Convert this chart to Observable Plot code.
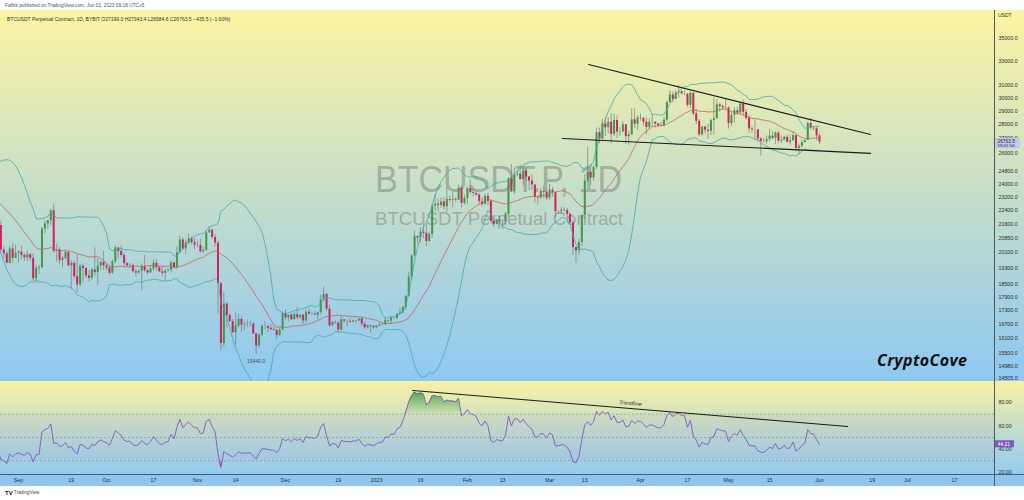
<!DOCTYPE html>
<html><head><meta charset="utf-8">
<script src="https://cdn.jsdelivr.net/npm/d3@7"></script>
<script src="https://cdn.jsdelivr.net/npm/@observablehq/plot@0.6"></script>
<style>
html,body{margin:0;padding:0;background:#fff;width:1024px;height:500px;overflow:hidden;font-family:"Liberation Sans",Arial,sans-serif;}
#root{position:relative;width:1024px;height:500px;}
.abs{position:absolute;}
</style></head><body><div id="root"></div>
<script>
// ---------------- DATA (daily BTCUSDT perpetual, from 2022-08-01) ----------------
const startDate = "2022-08-01T00:00:00Z";
const firstOpen = 23290;
const close = [
 // Aug 2022
 23300,22980,22820,22620,23310,23160,23180,23810,23160,23950,23930,24400,24440,24300,24100,23850,23340,23200,20830,21140,21520,21400,21530,21370,21560,20240,20040,19550,20290,19800,20050,
 // Sep
 20130,19950,19830,19990,19800,18790,19290,19320,21360,21650,21830,22400,20170,20230,19700,19800,20110,19420,19540,18880,18480,19400,19290,18920,18800,19220,19080,19410,19590,19420,
 // Oct
 19310,19050,19620,20340,20160,19950,19530,19420,19440,19130,19060,19150,19380,19180,19070,19260,19550,19330,19120,19040,19160,19200,19570,19330,20080,20770,20290,20590,20820,20620,20490,
 // Nov
 20480,20150,20210,21150,21300,20900,20600,18540,15880,17590,17070,16810,16330,16620,16900,16660,16690,16700,16700,16280,15780,16230,16600,16600,16520,16460,16430,16210,16440,17160,
 // Dec
 16970,17090,16890,17110,16970,17090,16840,17220,17130,17130,17090,17210,17780,18040,17360,16630,16770,16740,16440,16890,16820,16820,16780,16840,16830,16920,16700,16540,16630,16600,16540,
 // Jan 2023
 16620,16670,16670,16850,16830,16950,16940,17120,17180,17440,17940,18850,19930,20950,20870,21180,21130,20680,21070,22670,22780,22710,22920,22630,23060,23010,23080,23030,23740,22830,23120,
 // Feb
 23720,23490,23430,23330,22930,22760,23250,22960,21800,21630,21860,21780,21770,22200,24330,23520,24570,24630,24280,24830,24440,24190,23950,23190,23160,23550,23490,23140,
 // Mar
 23630,23470,22350,22350,22430,22410,22200,21700,20360,20190,20630,22130,24200,24750,24380,25050,27420,26970,28040,27770,28170,27300,28300,27470,27490,27990,27140,27270,28350,28030,28480,
 // Apr
 28450,28170,27800,28170,28180,28040,27920,27950,28330,29650,30230,29890,30390,30480,30310,30310,29430,30380,28800,28240,27260,27820,27590,27510,28300,28420,29470,29340,29250,29230,
 // May
 28070,28680,29030,28850,29530,28900,28450,27690,27630,27620,26990,26800,26780,26930,27170,27030,27400,26830,26890,27100,26750,26850,27220,26330,26470,26720,26870,28080,27740,27700,27199,
 // Jun 1
 26763.5
];
const high = [
 23500,23450,23650,23200,23460,23360,23400,24240,23900,24200,24920,24450,24890,25050,25200,24250,24450,23590,23230,21380,21800,21700,21680,21900,21820,21800,20400,20150,20420,20580,20480,
 20200,20450,20050,20180,20050,20030,19460,19450,21450,21800,21850,22480,22800,20540,20350,19900,20180,20120,19680,19650,19950,19500,19500,19320,19180,19300,20350,19770,19640,20180,
 19480,19390,19720,20470,20370,20450,20050,19600,19530,19520,19270,19230,19520,19950,19230,19420,19690,19700,19360,19350,19250,19260,19700,19600,20410,21000,20870,20740,21080,20930,20840,
 20700,20800,20390,21300,21480,21370,21050,20700,18600,18150,17660,17150,16900,17200,17130,17000,16750,16880,16820,16750,16300,16300,16680,16800,16620,16690,16600,16490,16530,17230,
 17320,17100,17160,17200,17430,17110,17140,17300,17350,17230,17270,17240,18000,18390,18050,17530,16800,16850,16820,17050,16900,16870,16950,16870,16860,16940,16960,16790,16660,16650,16640,
 16630,16780,16760,16990,16880,17040,16960,17180,17390,17490,17990,19100,19970,21260,20990,21440,21640,21650,21180,22750,23360,23080,23160,23150,23800,23240,23500,23150,23950,23820,23320,
 23800,24250,23700,23590,23430,23150,23350,23450,22980,21960,21900,22090,21900,22300,24380,25250,25020,24880,25190,25120,25000,24480,24600,23880,23220,23700,23880,23600,
 23990,23780,23480,22420,22610,22600,22530,22270,21800,20370,20800,22170,24600,26400,25250,25200,27750,27750,28400,28500,28500,28800,28750,28650,27800,28200,28000,27500,29180,29170,28640,
 28800,28530,28480,28440,28740,28200,28100,28170,28520,29770,30550,30480,30620,31000,30600,30550,30320,30480,30420,29120,28370,27870,27880,28000,28400,30020,29880,29590,29460,29960,
 29330,28880,29260,29290,29680,29850,29120,28650,27820,28330,27650,27080,27030,27190,27650,27490,27480,27480,27190,27150,27250,27260,27500,27230,26620,26920,26900,28200,28450,27830,27820,
 27343.4
];
const low = [
 22860,22660,22700,22450,22500,22930,22850,23000,22890,22700,23830,23600,24280,24150,23800,23700,23190,23140,20780,20770,21090,20880,21350,21150,21340,20120,19790,19520,19530,19550,19780,
 19560,19750,19650,19650,19650,18670,18540,19000,19290,21110,21360,21550,20050,19620,19500,19320,19710,19380,18250,18780,18120,18370,18600,18800,18650,18700,18900,18470,19200,19180,
 19160,18950,19000,19520,19750,19860,19320,19330,19320,19050,18860,18990,18190,19080,18970,19060,19160,19170,19080,18900,18650,19110,19080,19250,19250,20070,20200,20010,20540,20500,20240,
 20350,20050,20050,20170,21140,20800,20380,17150,15580,15740,16530,16760,16300,15820,16540,16350,16420,16560,16580,16250,15440,15690,16170,16450,16340,16430,16400,16040,16180,16420,
 16850,16790,16860,16880,16880,16910,16680,16740,17100,17090,17080,16880,17100,17670,17250,16550,16580,16710,16290,16400,16740,16560,16750,16780,16740,16800,16600,16460,16500,16320,16480,
 16500,16550,16600,16650,16750,16680,16910,16910,17100,17150,17310,17900,18700,19890,20550,20600,20840,20400,20650,20870,22380,22300,22540,22450,22300,22880,22560,22870,23020,22550,22730,
 22750,23370,23220,23250,22750,22640,22760,22690,21700,21450,21600,21630,21350,21560,22050,23510,23350,24460,24230,23890,24140,23600,23600,22850,22730,23070,23100,23000,
 23030,23200,22000,22200,22200,22320,21950,21600,19950,19550,19950,20420,21900,24080,23910,24190,24900,26650,26900,27150,27350,26650,27150,27000,27160,27400,26600,26550,27230,27700,27580,
 28270,27880,27270,27670,27830,27740,27790,27880,27800,28180,29600,29640,29860,30000,30240,30170,29280,29180,28620,28000,27140,27180,27350,26950,27220,27250,28400,28920,29080,29100,
 27680,27880,28130,28690,28780,28650,28340,27360,27380,26850,26750,25810,26710,26610,26760,26900,26580,26650,26670,26840,26660,26530,26830,26100,25870,26350,26690,26850,27600,27540,26850,
 26584.6
];
const lastOpen = 27199.0;
const lastClose = 26763.5;
const lastRsi = 44.21;
const lowLabel = [{date: "2022-11-21T00:00:00Z", price: 15440, text: "15440.0"}];
const priceTicks = [35000,33000,31000,30000,29000,28000,27000,26000,24800,24000,23200,22400,21600,20850,20100,19300,18500,17900,17300,16700,16100,15500,14980,14505];
const rsiTicks = [80,60,40,20];
const rsiLevels = [70,50,30];
const timeTickDates = ["2022-09-01","2022-09-19","2022-10-01","2022-10-17","2022-11-01","2022-11-14","2022-12-01","2022-12-19","2023-01-01","2023-01-16","2023-02-01","2023-02-13","2023-03-01","2023-03-13","2023-04-01","2023-04-17","2023-05-01","2023-05-15","2023-06-01","2023-06-19","2023-07-01","2023-07-17"];
const timeTickLabels = ["Sep","19","Oct","17","Nov","14","Dec","19","2023","16","Feb","13","Mar","13","Apr","17","May","15","Jun","19","Jul","17"];
const trendUpper = [{date:"2023-03-14T07:00:00Z", price:32720},{date:"2023-06-18T10:00:00Z", price:27290}];
const trendLower = [{date:"2023-03-05T10:00:00Z", price:27010},{date:"2023-06-18T10:00:00Z", price:25990}];
const trendRsi = [{date:"2023-01-13T07:00:00Z", rsi:90.2},{date:"2023-06-10T14:00:00Z", rsi:59.4}];
const trendRsiLabel = [{date:"2023-03-28T14:00:00Z", rsi:79.2, text:"Trendline"}];

// ---------------- BUILD ----------------
const DAY = 86400000;
const t0 = +new Date(startDate);
const candles = close.map((c, i) => ({
  date: new Date(t0 + i * DAY),
  open: i === close.length - 1 ? lastOpen : (i ? close[i - 1] : firstOpen),
  high: high[i], low: low[i], close: c
}));
// Bollinger Bands (20, 2)
const N = 20;
candles.forEach((d, i) => {
  if (i >= N - 1) {
    const w = close.slice(i - N + 1, i + 1);
    const m = d3.mean(w);
    const sd = Math.sqrt(d3.mean(w, v => (v - m) ** 2));
    d.basis = m; d.upper = m + 2 * sd; d.lower = m - 2 * sd;
  }
});
const bb = candles.filter(d => d.basis !== undefined);
// RSI 14 (Wilder)
const rsiData = [];
{
  let ag = 0, al = 0;
  for (let i = 1; i < close.length; i++) {
    const ch = close[i] - close[i - 1];
    const g = Math.max(ch, 0), l = Math.max(-ch, 0);
    if (i <= 14) { ag += g; al += l; if (i === 14) { ag /= 14; al /= 14; } else continue; }
    else { ag = (ag * 13 + g) / 14; al = (al * 13 + l) / 14; }
    rsiData.push({date: candles[i].date, rsi: al === 0 ? 100 : 100 - 100 / (1 + ag / al)});
  }
}
const parse = s => new Date(s);
const xDomain = [new Date("2022-08-25T20:46:00Z"), new Date("2023-07-30T15:36:00Z")];
const UP = "#3f9a45", DOWN = "#cf2360", WICK = "#7b7b7b";
const FONT = "Liberation Sans, Arial, sans-serif";

const root = document.getElementById("root");
function addDiv(css) { const d = document.createElement("div"); d.className = "abs"; d.style.cssText = css; root.appendChild(d); return d; }
addDiv("left:0;top:10px;width:1024px;height:371px;background:linear-gradient(#fcf4a2,#8ec8f2);");
addDiv("left:0;top:381px;width:1024px;height:93px;background:linear-gradient(#f9f1a3,#94cbf2);");
addDiv("left:0;top:474px;width:1024px;height:12px;background:#8fc6ef;");

// ---------------- MAIN PANE ----------------
const main = Plot.plot({
  width: 1024, height: 371, marginLeft: 0, marginRight: 30, marginTop: 0, marginBottom: 0,
  style: {background: "transparent", fontFamily: FONT, fontSize: "5.3px", color: "#2b2b2b", overflow: "visible"},
  x: {type: "utc", domain: xDomain, axis: null},
  y: {type: "log", domain: [14392, 37633], axis: "right", ticks: priceTicks, tickFormat: d => d.toFixed(1), tickSize: 0, tickPadding: 4, label: null},
  marks: [
    Plot.ruleX(candles, {x: "date", y1: "low", y2: "high", stroke: WICK, strokeWidth: 0.7, clip: true}),
    Plot.ruleX(candles.filter(d => d.close >= d.open), {x: "date", y1: "open", y2: "close", stroke: UP, strokeWidth: 2, clip: true}),
    Plot.ruleX(candles.filter(d => d.close < d.open), {x: "date", y1: "open", y2: "close", stroke: DOWN, strokeWidth: 2, clip: true}),
    Plot.line(bb, {x: "date", y: "upper", stroke: "#48a6b0", strokeWidth: 0.8, clip: true}),
    Plot.line(bb, {x: "date", y: "lower", stroke: "#48a6b0", strokeWidth: 0.8, clip: true}),
    Plot.line(bb, {x: "date", y: "basis", stroke: "#b9675f", strokeWidth: 0.8, clip: true}),
    Plot.line(trendUpper, {x: d => parse(d.date), y: "price", stroke: "#1a1a1a", strokeWidth: 1.1}),
    Plot.line(trendLower, {x: d => parse(d.date), y: "price", stroke: "#1a1a1a", strokeWidth: 1.1}),
    Plot.text(lowLabel, {x: d => parse(d.date), y: "price", text: "text", dy: 7, fontSize: 5, fill: "#4a4a4a"})
  ]
});
main.style.position = "absolute"; main.style.left = "0px"; main.style.top = "10px";
root.appendChild(main);
// watermark behind marks
{
  const g = d3.select(main).insert("g", ":first-child").attr("fill", "rgba(95,95,95,0.40)")
    .attr("font-family", FONT).attr("text-anchor", "start");
  g.append("text").attr("x", 375).attr("y", 182).attr("font-size", 36).attr("textLength", 247).attr("lengthAdjust", "spacingAndGlyphs").attr("text-anchor", "start").text("BTCUSDT.P, 1D");
  g.append("text").attr("x", 375).attr("y", 215).attr("font-size", 19).attr("textLength", 248).attr("lengthAdjust", "spacingAndGlyphs").attr("text-anchor", "start").text("BTCUSDT Perpetual Contract");
}

// ---------------- RSI PANE + TIME AXIS ----------------
const tickDates = timeTickDates.map(s => new Date(s + "T00:00:00Z"));
const tickLab = new Map(tickDates.map((d, i) => [+d, timeTickLabels[i]]));
const rsiPlot = Plot.plot({
  width: 1024, height: 105, marginLeft: 0, marginRight: 30, marginTop: 0, marginBottom: 12,
  style: {background: "transparent", fontFamily: FONT, fontSize: "5.3px", color: "#2b2b2b", overflow: "visible"},
  x: {type: "utc", domain: xDomain, ticks: tickDates, tickFormat: d => tickLab.get(+d), tickSize: 0, tickPadding: 3.5, label: null},
  y: {domain: [18.38, 97.86], axis: "right", ticks: rsiTicks, tickFormat: d => d.toFixed(2), tickSize: 0, tickPadding: 4, label: null},
  marks: [
    Plot.rect([{a: 30, b: 70}], {y1: "a", y2: "b", fill: "#7e57c2", fillOpacity: 0.06}),
    Plot.ruleY(rsiLevels, {stroke: "#8c8c8c", strokeWidth: 0.6, strokeDasharray: "2,2"}),
    Plot.areaY(rsiData, {x: "date", y1: 70, y2: d => Math.max(d.rsi, 70), fill: "url(#rsiGreen)", clip: true}),
    Plot.areaY(rsiData, {x: "date", y1: 30, y2: d => Math.min(d.rsi, 30), fill: "url(#rsiRed)", clip: true}),
    Plot.line(rsiData, {x: "date", y: "rsi", stroke: "#7e57c2", strokeWidth: 0.9, clip: true}),
    Plot.line(trendRsi, {x: d => parse(d.date), y: "rsi", stroke: "#1a1a1a", strokeWidth: 1}),
    Plot.text(trendRsiLabel, {x: d => parse(d.date), y: "rsi", text: "text", rotate: 4.7, fontSize: 5.5, fontStyle: "italic", fill: "#333"})
  ]
});
rsiPlot.style.position = "absolute"; rsiPlot.style.left = "0px"; rsiPlot.style.top = "381px";
root.appendChild(rsiPlot);
d3.select(rsiPlot).append("defs").html(
  '<linearGradient id="rsiGreen" x1="0" y1="0" x2="0" y2="1"><stop offset="0" stop-color="#3fa046" stop-opacity="0.9"/><stop offset="1" stop-color="#3fa046" stop-opacity="0.05"/></linearGradient>' +
  '<linearGradient id="rsiRed" x1="0" y1="0" x2="0" y2="1"><stop offset="0" stop-color="#d32f2f" stop-opacity="0.05"/><stop offset="1" stop-color="#d32f2f" stop-opacity="0.8"/></linearGradient>');

// separators
addDiv("left:994px;top:10px;width:1px;height:476px;background:#4f5862;");
addDiv("left:0;top:474px;width:1024px;height:1px;background:#4f5a66;");

// ---------------- OVERLAY TEXT ----------------
const ov = d3.select(root).append("svg").attr("width", 1024).attr("height", 500)
  .style("position", "absolute").style("left", 0).style("top", 0).attr("font-family", FONT);
ov.append("text").attr("x", 5).attr("y", 6.8).attr("font-size", 4.8).attr("fill", "#555").text("Falbik published on TradingView.com, Jun 01, 2023 09:18 UTC+5");
ov.append("text").attr("x", 7).attr("y", 20.8).attr("font-size", 5).attr("fill", "#333")
  .text("BTCUSDT Perpetual Contract, 1D, BYBIT  O27199.0  H27343.4  L26584.6  C26763.5  \u2212435.5 (\u22121.60%)");
ov.append("text").attr("x", 998).attr("y", 17).attr("font-size", 5).attr("fill", "#333").text("USDT");
ov.append("text").attr("x", 877).attr("y", 366).attr("font-family", "Open Sans, DejaVu Sans, sans-serif")
  .attr("font-size", 16).attr("font-weight", 700).attr("font-style", "italic").attr("fill", "#111").attr("textLength", 90).text("CryptoCove");
// last price label (covers the lower half of the 27000.0 tick, as in the reference)
{
  const yp = 10 + main.scale("y").apply(lastClose);
  ov.append("rect").attr("x", 995).attr("y", yp - 3.6).attr("width", 25).attr("height", 10.2).attr("fill", "#c3c7ec");
  ov.append("text").attr("x", 997.5).attr("y", yp + 1.4).attr("font-size", 4.8).attr("fill", "#1d2550").text(lastClose.toFixed(1));
  ov.append("text").attr("x", 997.5).attr("y", yp + 5.8).attr("font-size", 4.4).attr("fill", "#1d2550").text("19:41:56");
  const yr = 381 + rsiPlot.scale("y").apply(lastRsi);
  ov.append("rect").attr("x", 995).attr("y", yr - 3.5).attr("width", 19).attr("height", 7).attr("fill", "#7e57c2");
  ov.append("text").attr("x", 997.5).attr("y", yr + 1.8).attr("font-size", 5).attr("fill", "#fff").text(lastRsi.toFixed(2));
}
// logo
ov.append("text").attr("x", 5).attr("y", 494.5).attr("font-size", 6).attr("font-weight", 900).attr("fill", "#131722").text("TV");
ov.append("text").attr("x", 14).attr("y", 494.3).attr("font-size", 4.6).attr("fill", "#444").text("TradingView");
</script></body></html>
